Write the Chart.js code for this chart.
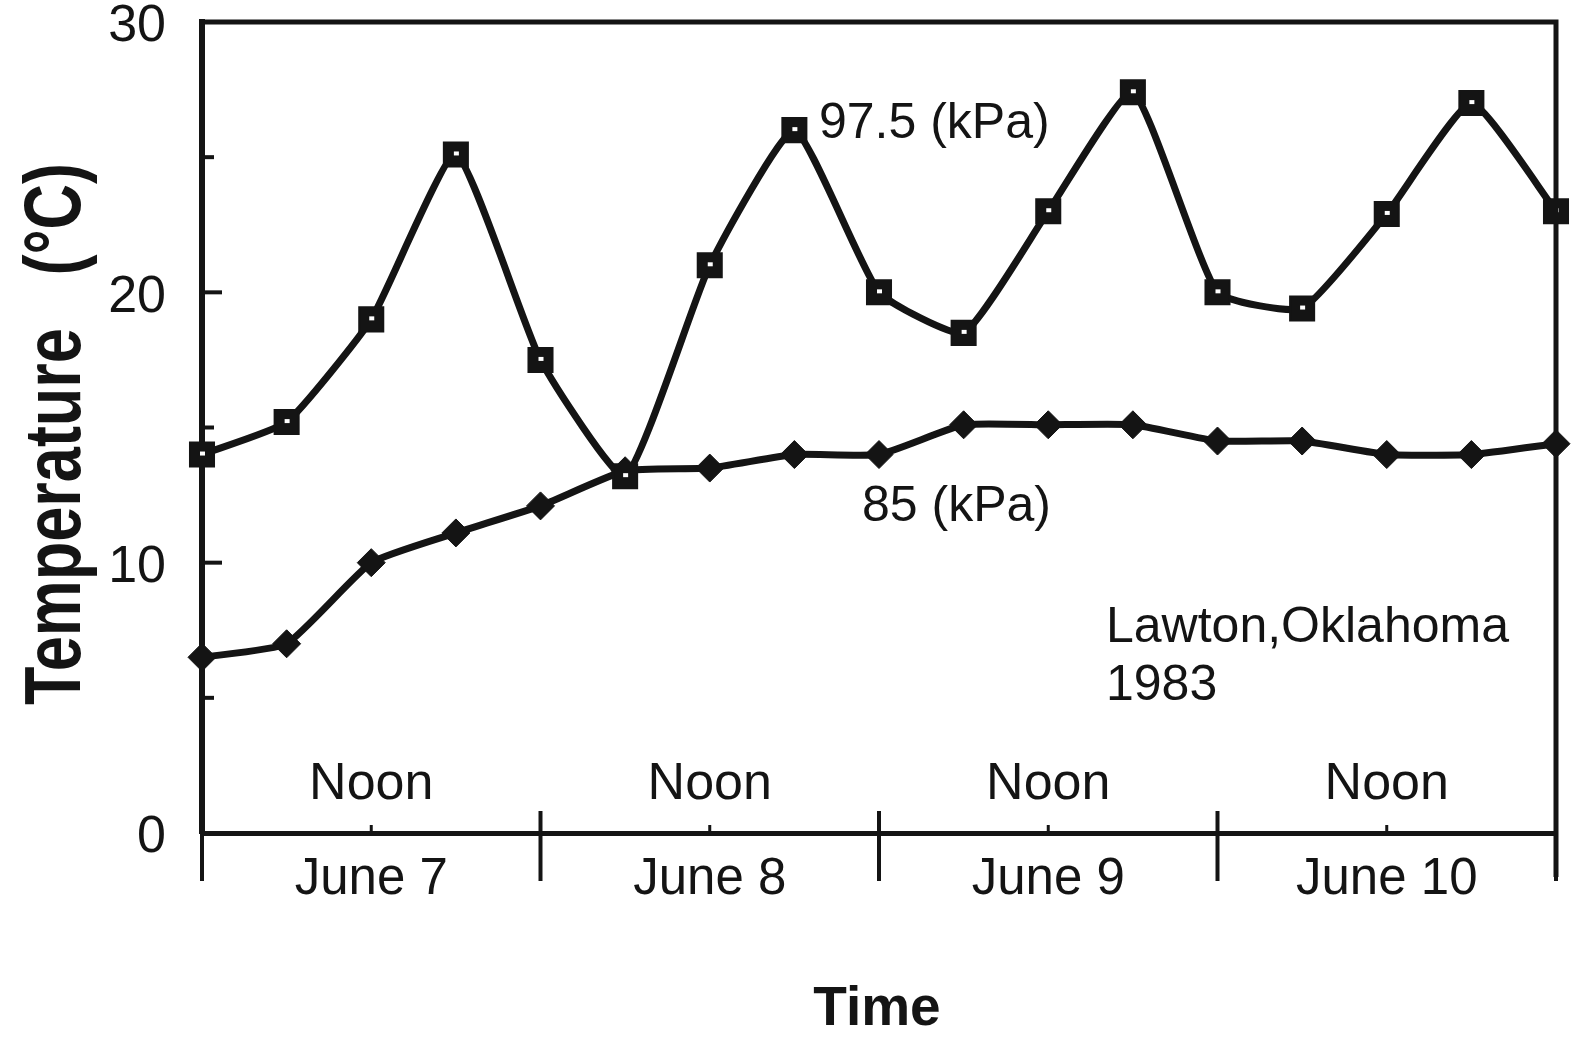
<!DOCTYPE html>
<html>
<head>
<meta charset="utf-8">
<script src="https://cdn.jsdelivr.net/npm/chart.js@4.4.1/dist/chart.umd.min.js"></script>
<style>
  html, body { margin: 0; padding: 0; background: #fff; }
  #wrap { width: 1581px; height: 1038px; position: relative; }
</style>
</head>
<body>
<div id="wrap"><canvas id="chart"></canvas></div>
<script>
// hours since June 7, 00:00 (one reading every 6 h)
const hours = [0, 6, 12, 18, 24, 30, 36, 42, 48, 54, 60, 66, 72, 78, 84, 90, 96];
const temp975 = [14.0, 15.2, 19.0, 25.1, 17.5, 13.2, 21.0, 26.0, 20.0, 18.5, 23.0, 27.4, 20.0, 19.4, 22.9, 27.0, 23.0];
const temp85 = [6.5, 7.0, 10.0, 11.1, 12.1, 13.4, 13.5, 14.0, 14.0, 15.1, 15.1, 15.1, 14.5, 14.5, 14.0, 14.0, 14.4];

const noonHours = [12, 36, 60, 84];
const dayLabels = ['June 7', 'June 8', 'June 9', 'June 10'];
const dayBounds = [0, 24, 48, 72, 96];
const minorTemps = [5, 15, 25];
const majorTemps = [10, 20];

const INK = '#141414';
const FONT = '"Liberation Sans", Arial, Helvetica, sans-serif';

// frame, ticks and text drawn against the chart's own scales
const decorPlugin = {
  id: 'decor',
  afterDraw(chart) {
    const { ctx, chartArea: a, scales: { x, y } } = chart;
    ctx.save();
    ctx.strokeStyle = INK;
    ctx.lineCap = 'butt';

    // top and right frame
    ctx.lineWidth = 5;
    ctx.beginPath();
    ctx.moveTo(a.left, a.top);
    ctx.lineTo(a.right, a.top);
    ctx.lineTo(a.right, a.bottom + 44);
    ctx.stroke();

    // y ticks, pointing inward
    ctx.lineWidth = 4;
    majorTemps.forEach(v => {
      const py = y.getPixelForValue(v);
      ctx.beginPath(); ctx.moveTo(a.left, py); ctx.lineTo(a.left + 20, py); ctx.stroke();
    });
    minorTemps.forEach(v => {
      const py = y.getPixelForValue(v);
      ctx.beginPath(); ctx.moveTo(a.left, py); ctx.lineTo(a.left + 12, py); ctx.stroke();
    });

    // day boundary ticks
    dayBounds.forEach((h, i) => {
      const px = x.getPixelForValue(h);
      const inner = i > 0 && i < dayBounds.length - 1;
      ctx.beginPath();
      ctx.moveTo(px, inner ? a.bottom - 22 : a.bottom);
      ctx.lineTo(px, a.bottom + 48);
      ctx.stroke();
    });
    // noon ticks
    ctx.lineWidth = 3;
    noonHours.forEach(h => {
      const px = x.getPixelForValue(h);
      ctx.beginPath(); ctx.moveTo(px, a.bottom); ctx.lineTo(px, a.bottom - 8); ctx.stroke();
    });

    ctx.fillStyle = INK;
    ctx.textBaseline = 'middle';
    ctx.textAlign = 'center';
    ctx.font = '52px ' + FONT;
    noonHours.forEach(h => ctx.fillText('Noon', x.getPixelForValue(h), a.bottom - 48));

    ctx.textAlign = 'left';
    ctx.font = '50px ' + FONT;
    ctx.fillText('97.5 (kPa)', 819, 124);
    ctx.fillText('85 (kPa)', 862, 507);
    ctx.fillText('Lawton,Oklahoma', 1106, 628);
    ctx.fillText('1983', 1106, 686);

    // axis titles
    ctx.font = 'bold 55px ' + FONT;
    ctx.textAlign = 'center';
    ctx.fillText('Time', 877, 1010);

    ctx.save();
    ctx.translate(58, 434);
    ctx.rotate(-Math.PI / 2);
    ctx.scale(1, 1.25);
    ctx.font = 'bold 63px ' + FONT;
    ctx.fillText('Temperature   (°C)', 0, 0);
    ctx.restore();

    ctx.restore();
  },
  afterDatasetsDraw(chart) {
    // small open centre of the square markers
    const { ctx } = chart;
    const meta = chart.getDatasetMeta(0);
    ctx.save();
    ctx.fillStyle = '#fff';
    meta.data.forEach(p => ctx.fillRect(p.x - 2, p.y - 3, 5, 4));
    ctx.restore();
  }
};

new Chart(document.getElementById('chart'), {
  type: 'line',
  data: {
    datasets: [
      {
        label: '97.5 (kPa)',
        data: hours.map((h, i) => ({ x: h, y: temp975[i] })),
        borderColor: INK,
        backgroundColor: INK,
        borderWidth: 7,
        tension: 0.15,
        pointStyle: 'rect',
        pointRadius: 17,
        pointBorderWidth: 2,
        pointBackgroundColor: INK,
        pointBorderColor: INK,
        clip: false
      },
      {
        label: '85 (kPa)',
        data: hours.map((h, i) => ({ x: h, y: temp85[i] })),
        borderColor: INK,
        backgroundColor: INK,
        borderWidth: 7,
        tension: 0.15,
        pointStyle: 'rectRot',
        pointRadius: 14,
        pointBorderWidth: 1,
        pointBackgroundColor: INK,
        pointBorderColor: INK,
        clip: false
      }
    ]
  },
  options: {
    responsive: true,
    maintainAspectRatio: false,
    animation: false,
    layout: { padding: { top: 22, right: 25, left: 0, bottom: 0 } },
    plugins: {
      legend: { display: false },
      tooltip: { enabled: false }
    },
    scales: {
      x: {
        type: 'linear',
        min: 0,
        max: 96,
        grid: { display: false, drawTicks: false },
        border: { display: true, width: 5, color: INK },
        afterBuildTicks: s => { s.ticks = noonHours.map(v => ({ value: v })); },
        afterFit: s => { s.height = 205; s.paddingLeft = 0; s.paddingRight = 0; },
        ticks: {
          autoSkip: false,
          maxRotation: 0,
          padding: 16,
          color: INK,
          font: { family: FONT, size: 51 },
          callback: v => dayLabels[noonHours.indexOf(v)]
        }
      },
      y: {
        min: 0,
        max: 30,
        grid: { display: false, drawTicks: false },
        border: { display: true, width: 6, color: INK },
        afterFit: s => { s.width = 202; s.paddingTop = 0; s.paddingBottom = 0; },
        ticks: {
          stepSize: 10,
          padding: 36,
          labelOffset: 5,
          color: INK,
          font: { family: FONT, size: 52 }
        }
      }
    }
  },
  plugins: [decorPlugin]
});
</script>
</body>
</html>
